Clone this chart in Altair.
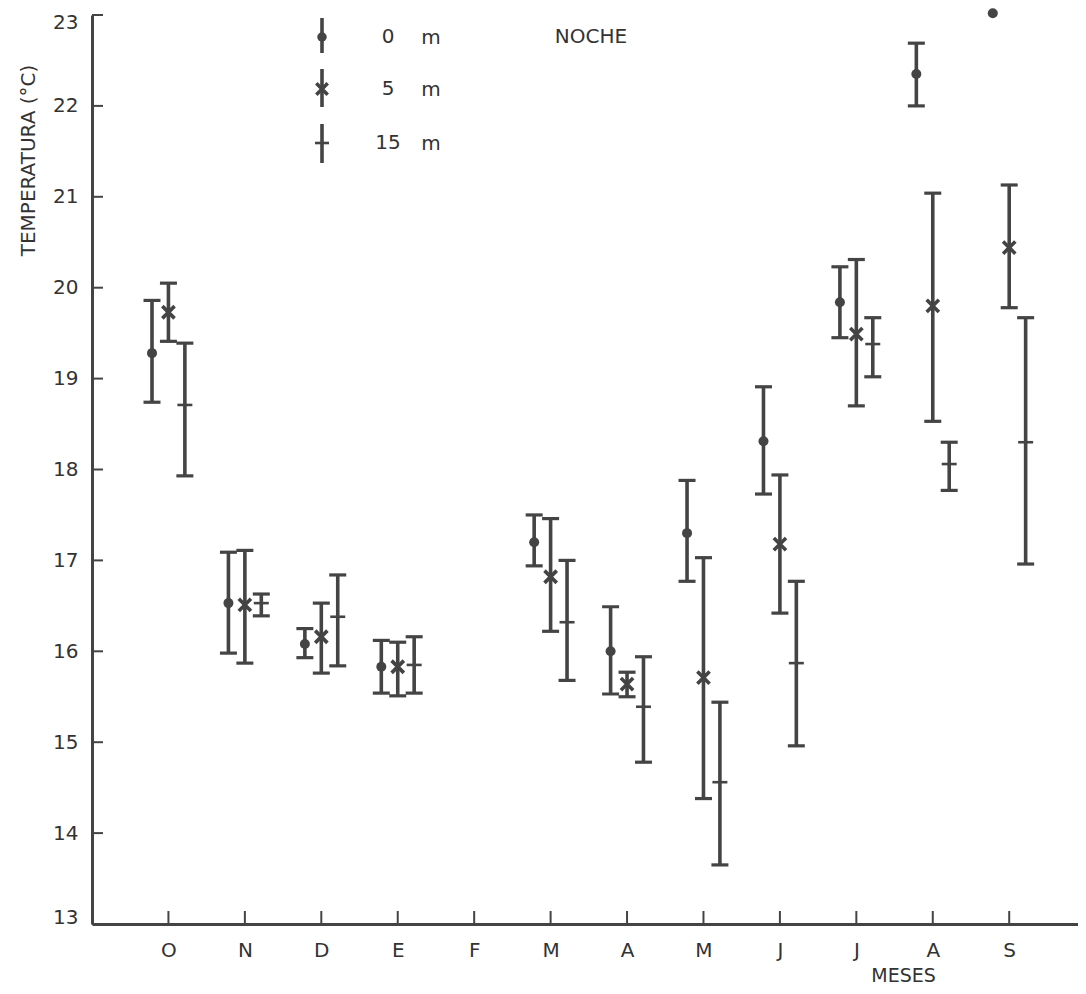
import json
import altair as alt
import pandas as pd

# ---------------- data ----------------
MONTHS = ["O", "N", "D", "E", "F", "M", "A", "M", "J", "J", "A", "S"]
DEPTHS = ["0 m", "5 m", "15 m"]

MEAN_0 = [19.28, 16.53, 16.08, 15.83, None, 17.20, 16.00, 17.30, 18.31, 19.84, 22.35, 23.02]
UP_0 = [19.86, 17.09, 16.25, 16.12, None, 17.50, 16.49, 17.88, 18.91, 20.23, 22.69, None]
LO_0 = [18.74, 15.98, 15.93, 15.54, None, 16.94, 15.53, 16.77, 17.73, 19.45, 22.00, None]

MEAN_5 = [19.73, 16.51, 16.16, 15.83, None, 16.82, 15.64, 15.71, 17.18, 19.49, 19.80, 20.44]
UP_5 = [20.05, 17.11, 16.53, 16.10, None, 17.46, 15.77, 17.03, 17.94, 20.31, 21.04, 21.13]
LO_5 = [19.41, 15.87, 15.76, 15.51, None, 16.22, 15.50, 14.38, 16.42, 18.70, 18.53, 19.78]

MEAN_15 = [18.71, 16.53, 16.38, 15.85, None, 16.32, 15.39, 14.56, 15.87, 19.38, 18.06, 18.30]
UP_15 = [19.39, 16.63, 16.84, 16.16, None, 17.00, 15.94, 15.44, 16.77, 19.67, 18.30, 19.67]
LO_15 = [17.93, 16.39, 15.84, 15.54, None, 15.68, 14.78, 13.65, 14.96, 19.02, 17.77, 16.96]

Y_TICKS = list(range(13, 24))
LEGEND_NUMS = ["0", "5", "15"]
LEGEND_UNIT = "m"
TITLE_TEXT = "NOCHE"
Y_TITLE = "TEMPERATURA (°C)"
X_TITLE = "MESES"

# ---------------- styling ----------------
INK = "#444444"
TXT = "#333333"
FONT = "DejaVu Sans"
W, H = 986, 909
OFFSET = {"0 m": -0.215, "5 m": 0.0, "15 m": 0.215}

series = {
    "0 m": (MEAN_0, LO_0, UP_0),
    "5 m": (MEAN_5, LO_5, UP_5),
    "15 m": (MEAN_15, LO_15, UP_15),
}
rows = []
for d in DEPTHS:
    m, lo, up = series[d]
    for i in range(len(MONTHS)):
        if m[i] is None:
            continue
        rows.append({"depth": d, "idx": i, "pos": i + OFFSET[d],
                     "mean": m[i], "lo": lo[i], "up": up[i]})
df = pd.DataFrame(rows)
err = df.dropna(subset=["lo", "up"])

xscale = alt.Scale(domain=[-1, 11.9], nice=False, zero=False)
yscale = alt.Scale(domain=[13, 23], nice=False, zero=False)

xaxis = alt.Axis(
    values=list(range(len(MONTHS))),
    labelExpr=f"{json.dumps(MONTHS)}[datum.value]",
    ticks=False, tickSize=0, grid=False,
    domainColor=INK, domainWidth=3,
    labelFont=FONT, labelFontSize=20, labelColor=TXT, labelPadding=16,
    title=X_TITLE, titleFont=FONT, titleFontSize=19, titleFontWeight="normal",
    titleColor=TXT, titleX=811, titleY=51, titleAlign="center", titleBaseline="middle",
)
yaxis = alt.Axis(
    values=Y_TICKS, ticks=False, tickSize=0, grid=False,
    domainColor=INK, domainWidth=3,
    labelFont=FONT, labelFontSize=20, labelColor=TXT, labelPadding=14,
    labelFlush=True, labelFlushOffset=3,
    title=Y_TITLE, titleFont=FONT, titleFontSize=20, titleFontWeight="normal",
    titleColor=TXT, titleX=-64, titleY=145, titleAngle=270,
    titleAlign="center", titleBaseline="middle",
)


def X(field):
    return alt.X(field, type="quantitative", scale=xscale, axis=xaxis)


def Y(field):
    return alt.Y(field, type="quantitative", scale=yscale, axis=yaxis)


month_df = pd.DataFrame({"idx": list(range(len(MONTHS))), "m": MONTHS})
ytick_df = pd.DataFrame({"v": Y_TICKS})

x_ticks = alt.Chart(month_df).mark_rule(color=INK, strokeWidth=2).encode(
    x=X("idx"), y=alt.value(H - 13), y2=alt.value(H)
)
y_ticks = alt.Chart(ytick_df).mark_rule(color=INK, strokeWidth=2).encode(
    y=Y("v"), x=alt.value(0), x2=alt.value(11)
)

bars = alt.Chart(err).mark_rule(color=INK, strokeWidth=3.6).encode(
    x=X("pos"), y=Y("lo"), y2="up"
)
cap_lo = alt.Chart(err).mark_tick(color=INK, orient="horizontal", size=17,
                                  thickness=3.2, opacity=1).encode(
    x=X("pos"), y=Y("lo")
)
cap_up = alt.Chart(err).mark_tick(color=INK, orient="horizontal", size=17,
                                  thickness=3.2, opacity=1).encode(
    x=X("pos"), y=Y("up")
)

dots = alt.Chart(df[df.depth == "0 m"]).mark_point(
    shape="circle", filled=True, color=INK, size=100, opacity=1
).encode(x=X("pos"), y=Y("mean"))

STAR = "M-1,-1L1,1M-1,1L1,-1"
stars = alt.Chart(df[df.depth == "5 m"]).mark_point(
    shape=STAR, filled=False, color=INK, size=150, strokeWidth=3.6, opacity=1
).encode(x=X("pos"), y=Y("mean"))

dashes = alt.Chart(df[df.depth == "15 m"]).mark_tick(
    color=INK, orient="horizontal", size=15, thickness=2.6, opacity=1
).encode(x=X("pos"), y=Y("mean"))

# ---------------- legend (drawn in pixel space) ----------------
LX = 230
leg = pd.DataFrame({"num": LEGEND_NUMS, "unit": [LEGEND_UNIT] * 3})
leg_layers = []
for k, (top, bot, mid) in enumerate([(3, 38, 22), (54, 92, 74), (109, 148, 128)]):
    one = leg.iloc[[k]]
    leg_layers.append(alt.Chart(one).mark_rule(color=INK, strokeWidth=3.6).encode(
        x=alt.value(LX), y=alt.value(top), y2=alt.value(bot)))
    if k == 0:
        leg_layers.append(alt.Chart(one).mark_point(
            shape="circle", filled=True, color=INK, size=90, opacity=1).encode(
            x=alt.value(LX), y=alt.value(mid)))
    elif k == 1:
        leg_layers.append(alt.Chart(one).mark_point(
            shape=STAR, filled=False, color=INK, size=130, strokeWidth=3.6, opacity=1).encode(
            x=alt.value(LX), y=alt.value(mid)))
    else:
        leg_layers.append(alt.Chart(one).mark_rule(color=INK, strokeWidth=2.6).encode(
            x=alt.value(LX - 7), x2=alt.value(LX + 7), y=alt.value(mid)))
    leg_layers.append(alt.Chart(one).mark_text(
        font=FONT, fontSize=20, color=TXT, align="center", baseline="middle").encode(
        x=alt.value(296), y=alt.value(mid), text="num:N"))
    leg_layers.append(alt.Chart(one).mark_text(
        font=FONT, fontSize=20, color=TXT, align="center", baseline="middle").encode(
        x=alt.value(339), y=alt.value(mid + 1), text="unit:N"))

title_df = pd.DataFrame({"t": [TITLE_TEXT]})
title_mark = alt.Chart(title_df).mark_text(
    font=FONT, fontSize=20, color=TXT, align="center", baseline="middle"
).encode(x=alt.value(499), y=alt.value(22), text="t:N")

chart = alt.layer(
    bars, cap_lo, cap_up, dots, stars, dashes, x_ticks, y_ticks,
    *leg_layers, title_mark
).properties(
    width=W, height=H,
    autosize=alt.AutoSizeParams(type="none"),
    padding={"left": 84, "top": 7, "right": 0, "bottom": 62},
    background="white",
).configure_view(stroke=None)

chart.save("out.html", embed_options={"renderer": "svg", "actions": False})
